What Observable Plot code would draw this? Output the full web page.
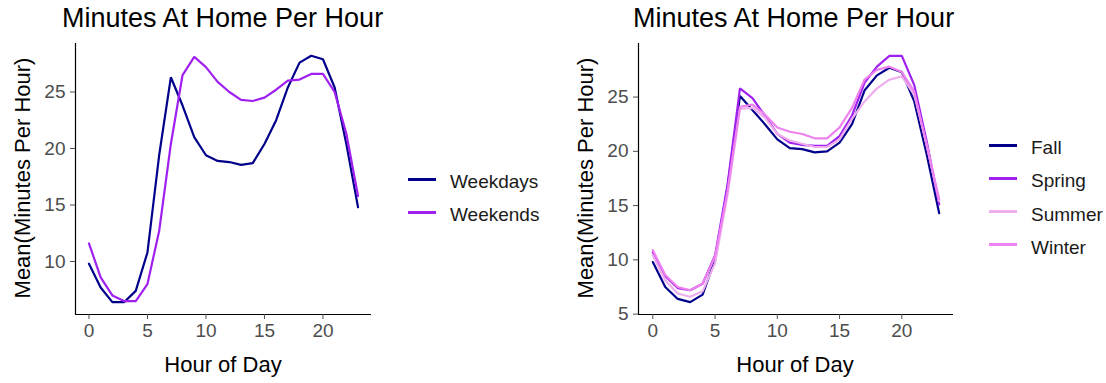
<!DOCTYPE html>
<html>
<head>
<meta charset="utf-8">
<script src="https://cdn.jsdelivr.net/npm/d3@7"></script>
<script src="https://cdn.jsdelivr.net/npm/@observablehq/plot@0.6"></script>
<style>
  html, body { margin: 0; padding: 0; background: #fff; }
  #root { position: relative; width: 1106px; height: 383px; overflow: hidden; font-family: "Liberation Sans", Arial, sans-serif; }
  .panel { position: absolute; top: 0; }
  .title { position: absolute; font-size: 27px; color: #000; white-space: nowrap; line-height: 1; }
  .xlab { position: absolute; font-size: 22px; color: #000; white-space: nowrap; line-height: 1; transform: translateX(-50%); }
  .ylab { position: absolute; font-size: 22px; color: #000; white-space: nowrap; line-height: 1; transform: translate(-50%, -50%) rotate(-90deg); }
  .leg { position: absolute; font-size: 19px; color: #1a1a1a; white-space: nowrap; line-height: 1; }
  .key { position: absolute; height: 3px; width: 28px; }
</style>
</head>
<body>
<div id="root"></div>
<script>
// ---- data ----
const hours = [0,1,2,3,4,5,6,7,8,9,10,11,12,13,14,15,16,17,18,19,20,21,22,23];

const dayTypes = ["Weekdays", "Weekends"];
const weekdays = [9.8,7.7,6.4,6.4,7.4,10.8,19.4,26.3,23.8,21.0,19.4,18.9,18.8,18.55,18.7,20.4,22.5,25.4,27.6,28.2,27.9,25.4,20.4,14.8];
const weekends = [11.6,8.6,7.0,6.5,6.5,8.0,12.7,20.4,26.5,28.1,27.2,25.9,25.0,24.3,24.2,24.5,25.2,26.0,26.1,26.6,26.6,25.0,21.3,15.8];
const dayColors = ["#00008B", "#A020F0"];

const seasons = ["Fall", "Spring", "Summer", "Winter"];
const fall   = [9.8,7.5,6.4,6.1,6.8,10.0,16.7,25.1,23.8,22.5,21.1,20.3,20.2,19.9,20.0,20.8,22.5,25.6,27.0,27.7,27.3,24.6,19.7,14.3];
const spring = [10.7,8.5,7.4,7.2,7.8,10.4,16.9,25.8,24.9,23.3,21.6,20.8,20.6,20.5,20.5,21.4,23.3,26.3,27.8,28.8,28.8,26.1,20.9,15.1];
const summer = [10.4,8.1,6.9,6.6,7.1,9.7,16.0,23.9,24.0,23.1,21.6,21.0,20.7,20.4,20.4,21.1,23.0,24.6,25.8,26.6,26.9,25.2,20.6,15.4];
const winter = [10.9,8.6,7.5,7.2,7.8,10.3,16.3,24.1,24.3,23.4,22.2,21.8,21.6,21.2,21.2,22.2,24.0,26.6,27.5,27.8,27.3,25.5,20.5,15.6];
const seasonColors = ["#00008B", "#A020F0", "#EEAEEE", "#EE82EE"];

const xTicks = [0, 5, 10, 15, 20];
const yTicksLeft = [10, 15, 20, 25];
const yTicksRight = [5, 10, 15, 20, 25];

const titleText = "Minutes At Home Per Hour";
const xLabel = "Hour of Day";
const yLabel = "Mean(Minutes Per Hour)";

// ---- helpers ----
function toRows(names, arrays) {
  const rows = [];
  names.forEach((n, i) => arrays[i].forEach((v, j) => rows.push({series: n, hour: hours[j], value: v})));
  return rows;
}
function expand(ext) {
  const d = (ext[1] - ext[0]) * 0.05;
  return [ext[0] - d, ext[1] + d];
}

function panel(rows, names, colors, yTicks, opts) {
  const xDom = expand(d3.extent(hours));
  const yDom = expand(d3.extent(rows, d => d.value));
  return Plot.plot({
    width: opts.width,
    height: 383,
    marginLeft: opts.marginLeft,
    marginRight: opts.marginRight,
    marginTop: 43,
    marginBottom: 69,
    style: {fontFamily: "Liberation Sans, Arial, sans-serif", background: "transparent"},
    x: {domain: xDom},
    y: {domain: yDom},
    color: {domain: names, range: colors},
    marks: [
      Plot.lineY(rows, {x: "hour", y: "value", z: "series", stroke: "series", strokeWidth: 2.2, strokeLinejoin: "miter"}),
      Plot.ruleX([xDom[0]], {stroke: "#000", strokeWidth: 1.2}),
      Plot.ruleY([yDom[0]], {stroke: "#000", strokeWidth: 1.2}),
      Plot.axisX({ticks: xTicks, tickSize: 5, tickPadding: 4, fontSize: 19, color: "#4D4D4D", label: null}),
      Plot.axisY({ticks: yTicks, tickSize: 5, tickPadding: 5, fontSize: 19, color: "#4D4D4D", label: null})
    ]
  });
}

const root = document.getElementById("root");
function addDiv(cls, text, style) {
  const d = document.createElement("div");
  d.className = cls;
  if (text != null) d.textContent = text;
  Object.assign(d.style, style);
  root.appendChild(d);
  return d;
}

// left panel
const left = panel(toRows(dayTypes, [weekdays, weekends]), dayTypes, dayColors, yTicksLeft,
  {width: 380, marginLeft: 75, marginRight: 9});
left.classList.add("panel");
left.style.left = "0px";
root.appendChild(left);

// right panel
const right = panel(toRows(seasons, [fall, spring, summer, winter]), seasons, seasonColors, yTicksRight,
  {width: 400, marginLeft: 78, marginRight: 7});
right.classList.add("panel");
right.style.left = "560px";
root.appendChild(right);

// titles & axis labels
addDiv("title", titleText, {left: "62px", top: "5px"});
addDiv("title", titleText, {left: "633px", top: "5px"});
addDiv("xlab", xLabel, {left: "223px", top: "354px"});
addDiv("xlab", xLabel, {left: "795px", top: "354px"});
addDiv("ylab", yLabel, {left: "23px", top: "178px"});
addDiv("ylab", yLabel, {left: "586px", top: "178px"});

// legends
dayTypes.forEach((n, i) => {
  const y = 179 + i * 33;
  addDiv("key", null, {left: "408px", top: (y - 1.5) + "px", background: dayColors[i]});
  addDiv("leg", n, {left: "450px", top: (y - 7) + "px"});
});
seasons.forEach((n, i) => {
  const y = 145 + i * 33.3;
  addDiv("key", null, {left: "989px", top: (y - 1.5) + "px", background: seasonColors[i]});
  addDiv("leg", n, {left: "1031px", top: (y - 7) + "px"});
});
</script>
</body>
</html>
